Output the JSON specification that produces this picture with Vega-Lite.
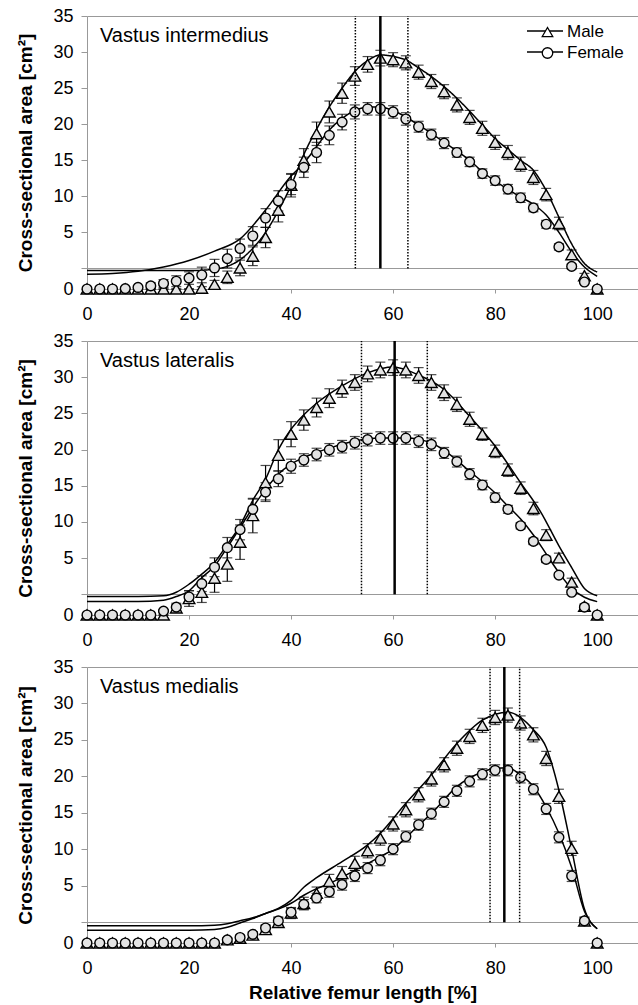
{
"$schema":"https://vega.github.io/schema/vega-lite/v6.json",
"padding":{"left":16,"top":7,"right":0,"bottom":2},
"spacing":9,
"config":{"font":"Liberation Sans","view":{"stroke":null},
 "axis":{"domain":true,"ticks":true,"domainColor":"#999999","tickColor":"#999999","domainWidth":1,"tickWidth":1,"labelColor":"black","titleColor":"black","labelFontSize":18,"titleFontSize":19,"titleFontWeight":"bold","labelFont":"Liberation Sans","titleFont":"Liberation Sans"}},
"resolve":{"scale":{"shape":"independent","strokeDash":"independent","opacity":"independent"},"legend":{"shape":"independent","strokeDash":"independent","opacity":"independent"}},
"datasets":{
"m":[
{"p":1,"s":"Male","x":0,"v":0,"e":0},{"p":1,"s":"Male","x":2.5,"v":0,"e":0},{"p":1,"s":"Male","x":5,"v":0,"e":0},{"p":1,"s":"Male","x":7.5,"v":0,"e":0},{"p":1,"s":"Male","x":10,"v":0,"e":0},{"p":1,"s":"Male","x":12.5,"v":0,"e":0},{"p":1,"s":"Male","x":15,"v":0,"e":0},{"p":1,"s":"Male","x":17.5,"v":0,"e":0},{"p":1,"s":"Male","x":20,"v":0,"e":0},{"p":1,"s":"Male","x":22.5,"v":0.1,"e":0.2},{"p":1,"s":"Male","x":25,"v":0.6,"e":0.5},{"p":1,"s":"Male","x":27.5,"v":1.5,"e":0.8},{"p":1,"s":"Male","x":30,"v":2.7,"e":1.0},{"p":1,"s":"Male","x":32.5,"v":4.2,"e":1.2},{"p":1,"s":"Male","x":35,"v":6.6,"e":1.3},{"p":1,"s":"Male","x":37.5,"v":10.1,"e":1.5},{"p":1,"s":"Male","x":40,"v":13.3,"e":1.5},{"p":1,"s":"Male","x":42.5,"v":16.5,"e":1.5},{"p":1,"s":"Male","x":45,"v":19.9,"e":1.5},{"p":1,"s":"Male","x":47.5,"v":22.7,"e":1.4},{"p":1,"s":"Male","x":50,"v":25.1,"e":1.3},{"p":1,"s":"Male","x":52.5,"v":27.3,"e":1.2},{"p":1,"s":"Male","x":55,"v":28.8,"e":1.0},{"p":1,"s":"Male","x":57.5,"v":29.6,"e":1.0},{"p":1,"s":"Male","x":60,"v":29.4,"e":0.9},{"p":1,"s":"Male","x":62.5,"v":29.0,"e":0.9},{"p":1,"s":"Male","x":65,"v":27.8,"e":0.9},{"p":1,"s":"Male","x":67.5,"v":26.6,"e":0.9},{"p":1,"s":"Male","x":70,"v":25.3,"e":0.9},{"p":1,"s":"Male","x":72.5,"v":23.6,"e":0.9},{"p":1,"s":"Male","x":75,"v":22.0,"e":0.9},{"p":1,"s":"Male","x":77.5,"v":20.6,"e":0.9},{"p":1,"s":"Male","x":80,"v":18.8,"e":0.9},{"p":1,"s":"Male","x":82.5,"v":17.5,"e":0.9},{"p":1,"s":"Male","x":85,"v":16.0,"e":0.9},{"p":1,"s":"Male","x":87.5,"v":14.3,"e":0.9},{"p":1,"s":"Male","x":90,"v":12.1,"e":0.8},{"p":1,"s":"Male","x":92.5,"v":8.4,"e":0.8},{"p":1,"s":"Male","x":95,"v":4.4,"e":0.6},{"p":1,"s":"Male","x":97.5,"v":1.7,"e":0.3},{"p":1,"s":"Male","x":100,"v":0,"e":0},
{"p":1,"s":"Female","x":0,"v":0,"e":0},{"p":1,"s":"Female","x":2.5,"v":0,"e":0},{"p":1,"s":"Female","x":5,"v":0,"e":0},{"p":1,"s":"Female","x":7.5,"v":0.05,"e":0.1},{"p":1,"s":"Female","x":10,"v":0.2,"e":0.2},{"p":1,"s":"Female","x":12.5,"v":0.4,"e":0.4},{"p":1,"s":"Female","x":15,"v":0.7,"e":0.5},{"p":1,"s":"Female","x":17.5,"v":1.0,"e":0.7},{"p":1,"s":"Female","x":20,"v":1.4,"e":0.8},{"p":1,"s":"Female","x":22.5,"v":1.8,"e":1.0},{"p":1,"s":"Female","x":25,"v":2.7,"e":1.1},{"p":1,"s":"Female","x":27.5,"v":3.9,"e":1.2},{"p":1,"s":"Female","x":30,"v":5.2,"e":1.2},{"p":1,"s":"Female","x":32.5,"v":6.8,"e":1.2},{"p":1,"s":"Female","x":35,"v":9.1,"e":1.2},{"p":1,"s":"Female","x":37.5,"v":11.3,"e":1.3},{"p":1,"s":"Female","x":40,"v":13.4,"e":1.3},{"p":1,"s":"Female","x":42.5,"v":15.6,"e":1.3},{"p":1,"s":"Female","x":45,"v":17.5,"e":1.3},{"p":1,"s":"Female","x":47.5,"v":19.7,"e":1.2},{"p":1,"s":"Female","x":50,"v":21.4,"e":1.0},{"p":1,"s":"Female","x":52.5,"v":22.7,"e":0.9},{"p":1,"s":"Female","x":55,"v":23.1,"e":0.8},{"p":1,"s":"Female","x":57.5,"v":23.1,"e":0.8},{"p":1,"s":"Female","x":60,"v":22.7,"e":0.8},{"p":1,"s":"Female","x":62.5,"v":21.8,"e":0.8},{"p":1,"s":"Female","x":65,"v":20.8,"e":0.7},{"p":1,"s":"Female","x":67.5,"v":19.8,"e":0.7},{"p":1,"s":"Female","x":70,"v":18.7,"e":0.7},{"p":1,"s":"Female","x":72.5,"v":17.5,"e":0.6},{"p":1,"s":"Female","x":75,"v":16.3,"e":0.6},{"p":1,"s":"Female","x":77.5,"v":14.8,"e":0.6},{"p":1,"s":"Female","x":80,"v":13.9,"e":0.6},{"p":1,"s":"Female","x":82.5,"v":12.8,"e":0.6},{"p":1,"s":"Female","x":85,"v":11.7,"e":0.6},{"p":1,"s":"Female","x":87.5,"v":10.4,"e":0.5},{"p":1,"s":"Female","x":90,"v":8.3,"e":0.5},{"p":1,"s":"Female","x":92.5,"v":5.4,"e":0.4},{"p":1,"s":"Female","x":95,"v":2.9,"e":0.3},{"p":1,"s":"Female","x":97.5,"v":0.9,"e":0.2},{"p":1,"s":"Female","x":100,"v":0,"e":0},
{"p":2,"s":"Male","x":0,"v":0,"e":0},{"p":2,"s":"Male","x":2.5,"v":0,"e":0},{"p":2,"s":"Male","x":5,"v":0,"e":0},{"p":2,"s":"Male","x":7.5,"v":0,"e":0},{"p":2,"s":"Male","x":10,"v":0,"e":0},{"p":2,"s":"Male","x":12.5,"v":0,"e":0},{"p":2,"s":"Male","x":15,"v":0,"e":0},{"p":2,"s":"Male","x":17.5,"v":0.9,"e":0.4},{"p":2,"s":"Male","x":20,"v":2.1,"e":1.0},{"p":2,"s":"Male","x":22.5,"v":2.9,"e":1.3},{"p":2,"s":"Male","x":25,"v":4.7,"e":1.8},{"p":2,"s":"Male","x":27.5,"v":6.5,"e":2.2},{"p":2,"s":"Male","x":30,"v":9.3,"e":2.2},{"p":2,"s":"Male","x":32.5,"v":12.7,"e":2.2},{"p":2,"s":"Male","x":35,"v":16.9,"e":2.2},{"p":2,"s":"Male","x":37.5,"v":20.4,"e":2.0},{"p":2,"s":"Male","x":40,"v":23.1,"e":1.6},{"p":2,"s":"Male","x":42.5,"v":24.9,"e":1.3},{"p":2,"s":"Male","x":45,"v":26.5,"e":1.2},{"p":2,"s":"Male","x":47.5,"v":27.7,"e":1.2},{"p":2,"s":"Male","x":50,"v":28.9,"e":1.1},{"p":2,"s":"Male","x":52.5,"v":29.7,"e":1.0},{"p":2,"s":"Male","x":55,"v":30.8,"e":1.0},{"p":2,"s":"Male","x":57.5,"v":31.3,"e":1.0},{"p":2,"s":"Male","x":60,"v":31.6,"e":1.0},{"p":2,"s":"Male","x":62.5,"v":31.3,"e":1.0},{"p":2,"s":"Male","x":65,"v":30.6,"e":1.0},{"p":2,"s":"Male","x":67.5,"v":29.7,"e":1.0},{"p":2,"s":"Male","x":70,"v":28.4,"e":1.0},{"p":2,"s":"Male","x":72.5,"v":26.9,"e":0.9},{"p":2,"s":"Male","x":75,"v":25.0,"e":0.9},{"p":2,"s":"Male","x":77.5,"v":23.1,"e":0.8},{"p":2,"s":"Male","x":80,"v":20.9,"e":0.8},{"p":2,"s":"Male","x":82.5,"v":18.5,"e":0.8},{"p":2,"s":"Male","x":85,"v":16.2,"e":0.8},{"p":2,"s":"Male","x":87.5,"v":13.6,"e":0.8},{"p":2,"s":"Male","x":90,"v":10.2,"e":0.7},{"p":2,"s":"Male","x":92.5,"v":7.3,"e":0.6},{"p":2,"s":"Male","x":95,"v":4.2,"e":0.5},{"p":2,"s":"Male","x":97.5,"v":1.1,"e":0.3},{"p":2,"s":"Male","x":100,"v":0,"e":0},
{"p":2,"s":"Female","x":0,"v":0,"e":0},{"p":2,"s":"Female","x":2.5,"v":0,"e":0},{"p":2,"s":"Female","x":5,"v":0,"e":0},{"p":2,"s":"Female","x":7.5,"v":0,"e":0},{"p":2,"s":"Female","x":10,"v":0,"e":0},{"p":2,"s":"Female","x":12.5,"v":0,"e":0},{"p":2,"s":"Female","x":15,"v":0.5,"e":0.2},{"p":2,"s":"Female","x":17.5,"v":1.0,"e":0.5},{"p":2,"s":"Female","x":20,"v":2.3,"e":0.8},{"p":2,"s":"Female","x":22.5,"v":4.0,"e":1.0},{"p":2,"s":"Female","x":25,"v":6.1,"e":1.2},{"p":2,"s":"Female","x":27.5,"v":8.6,"e":1.3},{"p":2,"s":"Female","x":30,"v":10.9,"e":1.3},{"p":2,"s":"Female","x":32.5,"v":13.5,"e":1.3},{"p":2,"s":"Female","x":35,"v":15.7,"e":1.2},{"p":2,"s":"Female","x":37.5,"v":17.4,"e":1.0},{"p":2,"s":"Female","x":40,"v":19.0,"e":0.9},{"p":2,"s":"Female","x":42.5,"v":19.8,"e":0.8},{"p":2,"s":"Female","x":45,"v":20.5,"e":0.8},{"p":2,"s":"Female","x":47.5,"v":21.1,"e":0.8},{"p":2,"s":"Female","x":50,"v":21.5,"e":0.8},{"p":2,"s":"Female","x":52.5,"v":22.0,"e":0.8},{"p":2,"s":"Female","x":55,"v":22.4,"e":0.8},{"p":2,"s":"Female","x":57.5,"v":22.6,"e":0.8},{"p":2,"s":"Female","x":60,"v":22.6,"e":0.8},{"p":2,"s":"Female","x":62.5,"v":22.6,"e":0.8},{"p":2,"s":"Female","x":65,"v":22.2,"e":0.8},{"p":2,"s":"Female","x":67.5,"v":21.8,"e":0.8},{"p":2,"s":"Female","x":70,"v":20.7,"e":0.7},{"p":2,"s":"Female","x":72.5,"v":19.6,"e":0.7},{"p":2,"s":"Female","x":75,"v":18.0,"e":0.7},{"p":2,"s":"Female","x":77.5,"v":16.6,"e":0.6},{"p":2,"s":"Female","x":80,"v":15.0,"e":0.6},{"p":2,"s":"Female","x":82.5,"v":13.5,"e":0.5},{"p":2,"s":"Female","x":85,"v":11.4,"e":0.4},{"p":2,"s":"Female","x":87.5,"v":9.4,"e":0.4},{"p":2,"s":"Female","x":90,"v":7.1,"e":0.4},{"p":2,"s":"Female","x":92.5,"v":5.1,"e":0.3},{"p":2,"s":"Female","x":95,"v":2.9,"e":0.3},{"p":2,"s":"Female","x":97.5,"v":1.0,"e":0.2},{"p":2,"s":"Female","x":100,"v":0,"e":0},
{"p":3,"s":"Male","x":0,"v":0,"e":0},{"p":3,"s":"Male","x":2.5,"v":0,"e":0},{"p":3,"s":"Male","x":5,"v":0,"e":0},{"p":3,"s":"Male","x":7.5,"v":0,"e":0},{"p":3,"s":"Male","x":10,"v":0,"e":0},{"p":3,"s":"Male","x":12.5,"v":0,"e":0},{"p":3,"s":"Male","x":15,"v":0,"e":0},{"p":3,"s":"Male","x":17.5,"v":0,"e":0},{"p":3,"s":"Male","x":20,"v":0,"e":0},{"p":3,"s":"Male","x":22.5,"v":0,"e":0},{"p":3,"s":"Male","x":25,"v":0,"e":0},{"p":3,"s":"Male","x":27.5,"v":0.4,"e":0.2},{"p":3,"s":"Male","x":30,"v":0.6,"e":0.3},{"p":3,"s":"Male","x":32.5,"v":1.0,"e":0.4},{"p":3,"s":"Male","x":35,"v":1.7,"e":0.5},{"p":3,"s":"Male","x":37.5,"v":2.6,"e":0.6},{"p":3,"s":"Male","x":40,"v":3.8,"e":0.7},{"p":3,"s":"Male","x":42.5,"v":5.0,"e":0.8},{"p":3,"s":"Male","x":45,"v":6.3,"e":0.8},{"p":3,"s":"Male","x":47.5,"v":7.8,"e":0.9},{"p":3,"s":"Male","x":50,"v":8.8,"e":0.9},{"p":3,"s":"Male","x":52.5,"v":10.1,"e":0.9},{"p":3,"s":"Male","x":55,"v":11.7,"e":0.9},{"p":3,"s":"Male","x":57.5,"v":13.3,"e":0.9},{"p":3,"s":"Male","x":60,"v":15.1,"e":0.9},{"p":3,"s":"Male","x":62.5,"v":16.9,"e":0.9},{"p":3,"s":"Male","x":65,"v":18.8,"e":0.9},{"p":3,"s":"Male","x":67.5,"v":20.8,"e":0.9},{"p":3,"s":"Male","x":70,"v":22.6,"e":0.9},{"p":3,"s":"Male","x":72.5,"v":24.7,"e":0.9},{"p":3,"s":"Male","x":75,"v":26.2,"e":0.9},{"p":3,"s":"Male","x":77.5,"v":27.6,"e":0.9},{"p":3,"s":"Male","x":80,"v":28.6,"e":0.9},{"p":3,"s":"Male","x":82.5,"v":28.9,"e":0.9},{"p":3,"s":"Male","x":85,"v":27.9,"e":0.9},{"p":3,"s":"Male","x":87.5,"v":26.4,"e":0.9},{"p":3,"s":"Male","x":90,"v":23.4,"e":0.9},{"p":3,"s":"Male","x":92.5,"v":18.6,"e":0.9},{"p":3,"s":"Male","x":95,"v":12.0,"e":0.9},{"p":3,"s":"Male","x":97.5,"v":2.8,"e":0.5},{"p":3,"s":"Male","x":100,"v":0,"e":0},
{"p":3,"s":"Female","x":0,"v":0,"e":0},{"p":3,"s":"Female","x":2.5,"v":0,"e":0},{"p":3,"s":"Female","x":5,"v":0,"e":0},{"p":3,"s":"Female","x":7.5,"v":0,"e":0},{"p":3,"s":"Female","x":10,"v":0,"e":0},{"p":3,"s":"Female","x":12.5,"v":0,"e":0},{"p":3,"s":"Female","x":15,"v":0,"e":0},{"p":3,"s":"Female","x":17.5,"v":0,"e":0},{"p":3,"s":"Female","x":20,"v":0,"e":0},{"p":3,"s":"Female","x":22.5,"v":0,"e":0},{"p":3,"s":"Female","x":25,"v":0,"e":0},{"p":3,"s":"Female","x":27.5,"v":0.4,"e":0.2},{"p":3,"s":"Female","x":30,"v":0.7,"e":0.3},{"p":3,"s":"Female","x":32.5,"v":1.1,"e":0.3},{"p":3,"s":"Female","x":35,"v":1.9,"e":0.4},{"p":3,"s":"Female","x":37.5,"v":2.8,"e":0.5},{"p":3,"s":"Female","x":40,"v":3.9,"e":0.5},{"p":3,"s":"Female","x":42.5,"v":4.9,"e":0.6},{"p":3,"s":"Female","x":45,"v":5.7,"e":0.6},{"p":3,"s":"Female","x":47.5,"v":6.5,"e":0.7},{"p":3,"s":"Female","x":50,"v":7.4,"e":0.7},{"p":3,"s":"Female","x":52.5,"v":8.5,"e":0.7},{"p":3,"s":"Female","x":55,"v":9.5,"e":0.7},{"p":3,"s":"Female","x":57.5,"v":10.5,"e":0.7},{"p":3,"s":"Female","x":60,"v":11.9,"e":0.7},{"p":3,"s":"Female","x":62.5,"v":13.5,"e":0.7},{"p":3,"s":"Female","x":65,"v":15.0,"e":0.7},{"p":3,"s":"Female","x":67.5,"v":16.4,"e":0.7},{"p":3,"s":"Female","x":70,"v":17.9,"e":0.7},{"p":3,"s":"Female","x":72.5,"v":19.3,"e":0.7},{"p":3,"s":"Female","x":75,"v":20.5,"e":0.7},{"p":3,"s":"Female","x":77.5,"v":21.4,"e":0.7},{"p":3,"s":"Female","x":80,"v":21.9,"e":0.7},{"p":3,"s":"Female","x":82.5,"v":21.9,"e":0.7},{"p":3,"s":"Female","x":85,"v":21.0,"e":0.7},{"p":3,"s":"Female","x":87.5,"v":19.5,"e":0.7},{"p":3,"s":"Female","x":90,"v":17.0,"e":0.7},{"p":3,"s":"Female","x":92.5,"v":13.4,"e":0.7},{"p":3,"s":"Female","x":95,"v":8.5,"e":0.7},{"p":3,"s":"Female","x":97.5,"v":2.8,"e":0.4},{"p":3,"s":"Female","x":100,"v":0,"e":0}
],
"l":[
{"p":1,"s":"Male","x":0,"v":-0.3},{"p":1,"s":"Male","x":10,"v":-0.3},{"p":1,"s":"Male","x":20,"v":-0.3},{"p":1,"s":"Male","x":25,"v":-0.1},{"p":1,"s":"Male","x":27.5,"v":0.3},{"p":1,"s":"Male","x":30,"v":1.2},{"p":1,"s":"Male","x":32.5,"v":2.8},{"p":1,"s":"Male","x":35,"v":5.0},{"p":1,"s":"Male","x":37.5,"v":8.0},{"p":1,"s":"Male","x":40,"v":11.5},{"p":1,"s":"Male","x":42.5,"v":15.8},{"p":1,"s":"Male","x":45,"v":19.3},{"p":1,"s":"Male","x":47.5,"v":22.4},{"p":1,"s":"Male","x":50,"v":25.0},{"p":1,"s":"Male","x":52.5,"v":27.3},{"p":1,"s":"Male","x":55,"v":28.8},{"p":1,"s":"Male","x":57.5,"v":29.6},{"p":1,"s":"Male","x":60,"v":29.4},{"p":1,"s":"Male","x":62.5,"v":28.9},{"p":1,"s":"Male","x":65,"v":27.8},{"p":1,"s":"Male","x":67.5,"v":26.6},{"p":1,"s":"Male","x":70,"v":25.2},{"p":1,"s":"Male","x":72.5,"v":23.6},{"p":1,"s":"Male","x":75,"v":21.8},{"p":1,"s":"Male","x":77.5,"v":19.9},{"p":1,"s":"Male","x":80,"v":18.0},{"p":1,"s":"Male","x":82.5,"v":16.5},{"p":1,"s":"Male","x":85,"v":15.0},{"p":1,"s":"Male","x":87.5,"v":13.6},{"p":1,"s":"Male","x":90,"v":10.8},{"p":1,"s":"Male","x":92.5,"v":7.1},{"p":1,"s":"Male","x":95,"v":3.4},{"p":1,"s":"Male","x":97.5,"v":0.7},{"p":1,"s":"Male","x":100,"v":-0.5},
{"p":1,"s":"Female","x":0,"v":-0.8},{"p":1,"s":"Female","x":5,"v":-0.7},{"p":1,"s":"Female","x":10,"v":-0.4},{"p":1,"s":"Female","x":15,"v":0.2},{"p":1,"s":"Female","x":20,"v":1.1},{"p":1,"s":"Female","x":25,"v":2.4},{"p":1,"s":"Female","x":30,"v":4.1},{"p":1,"s":"Female","x":35,"v":8.1},{"p":1,"s":"Female","x":40,"v":12.8},{"p":1,"s":"Female","x":42.5,"v":14.6},{"p":1,"s":"Female","x":45,"v":16.9},{"p":1,"s":"Female","x":47.5,"v":19.2},{"p":1,"s":"Female","x":50,"v":20.8},{"p":1,"s":"Female","x":52.5,"v":21.9},{"p":1,"s":"Female","x":55,"v":22.4},{"p":1,"s":"Female","x":57.5,"v":22.4},{"p":1,"s":"Female","x":60,"v":21.9},{"p":1,"s":"Female","x":62.5,"v":21.0},{"p":1,"s":"Female","x":65,"v":19.9},{"p":1,"s":"Female","x":70,"v":17.5},{"p":1,"s":"Female","x":75,"v":15.0},{"p":1,"s":"Female","x":77.5,"v":13.4},{"p":1,"s":"Female","x":80,"v":12.1},{"p":1,"s":"Female","x":82.5,"v":11.0},{"p":1,"s":"Female","x":85,"v":9.9},{"p":1,"s":"Female","x":87.5,"v":8.9},{"p":1,"s":"Female","x":90,"v":7.4},{"p":1,"s":"Female","x":92.5,"v":5.0},{"p":1,"s":"Female","x":95,"v":2.3},{"p":1,"s":"Female","x":97.5,"v":0.2},{"p":1,"s":"Female","x":100,"v":-1.1},
{"p":2,"s":"Male","x":0,"v":-0.3},{"p":2,"s":"Male","x":10,"v":-0.3},{"p":2,"s":"Male","x":15,"v":-0.2},{"p":2,"s":"Male","x":17.5,"v":0.3},{"p":2,"s":"Male","x":20,"v":1.4},{"p":2,"s":"Male","x":22.5,"v":2.8},{"p":2,"s":"Male","x":25,"v":4.4},{"p":2,"s":"Male","x":27.5,"v":6.9},{"p":2,"s":"Male","x":30,"v":9.5},{"p":2,"s":"Male","x":32.5,"v":13.0},{"p":2,"s":"Male","x":35,"v":15.9},{"p":2,"s":"Male","x":37.5,"v":20.0},{"p":2,"s":"Male","x":40,"v":22.8},{"p":2,"s":"Male","x":42.5,"v":24.8},{"p":2,"s":"Male","x":45,"v":26.4},{"p":2,"s":"Male","x":50,"v":28.8},{"p":2,"s":"Male","x":55,"v":30.6},{"p":2,"s":"Male","x":60,"v":31.4},{"p":2,"s":"Male","x":65,"v":30.3},{"p":2,"s":"Male","x":70,"v":28.3},{"p":2,"s":"Male","x":75,"v":24.6},{"p":2,"s":"Male","x":80,"v":20.5},{"p":2,"s":"Male","x":85,"v":15.4},{"p":2,"s":"Male","x":89,"v":11.3},{"p":2,"s":"Male","x":92.5,"v":6.7},{"p":2,"s":"Male","x":95,"v":3.7},{"p":2,"s":"Male","x":97.5,"v":0.8},{"p":2,"s":"Male","x":100,"v":-0.2},
{"p":2,"s":"Female","x":0,"v":-1.0},{"p":2,"s":"Female","x":10,"v":-1.0},{"p":2,"s":"Female","x":15,"v":-0.8},{"p":2,"s":"Female","x":17.5,"v":-0.3},{"p":2,"s":"Female","x":20,"v":0.5},{"p":2,"s":"Female","x":22.5,"v":2.3},{"p":2,"s":"Female","x":25,"v":3.9},{"p":2,"s":"Female","x":27.5,"v":6.5},{"p":2,"s":"Female","x":30,"v":9.2},{"p":2,"s":"Female","x":32.5,"v":12.0},{"p":2,"s":"Female","x":35,"v":14.5},{"p":2,"s":"Female","x":37.5,"v":16.6},{"p":2,"s":"Female","x":40,"v":18.0},{"p":2,"s":"Female","x":42.5,"v":18.9},{"p":2,"s":"Female","x":45,"v":19.6},{"p":2,"s":"Female","x":47.5,"v":20.2},{"p":2,"s":"Female","x":52.5,"v":21.2},{"p":2,"s":"Female","x":57.5,"v":21.6},{"p":2,"s":"Female","x":62.5,"v":21.6},{"p":2,"s":"Female","x":67.5,"v":20.9},{"p":2,"s":"Female","x":70,"v":19.9},{"p":2,"s":"Female","x":75,"v":17.0},{"p":2,"s":"Female","x":80,"v":14.0},{"p":2,"s":"Female","x":82.5,"v":12.2},{"p":2,"s":"Female","x":85,"v":10.4},{"p":2,"s":"Female","x":87.5,"v":8.2},{"p":2,"s":"Female","x":90,"v":5.6},{"p":2,"s":"Female","x":92.5,"v":3.0},{"p":2,"s":"Female","x":95,"v":0.8},{"p":2,"s":"Female","x":97.5,"v":-0.4},{"p":2,"s":"Female","x":100,"v":-1.0},
{"p":3,"s":"Male","x":0,"v":-0.5},{"p":3,"s":"Male","x":20,"v":-0.5},{"p":3,"s":"Male","x":25,"v":-0.4},{"p":3,"s":"Male","x":27.5,"v":-0.2},{"p":3,"s":"Male","x":30,"v":0.2},{"p":3,"s":"Male","x":32.5,"v":0.6},{"p":3,"s":"Male","x":35,"v":1.2},{"p":3,"s":"Male","x":37.5,"v":1.9},{"p":3,"s":"Male","x":40,"v":3.0},{"p":3,"s":"Male","x":42.5,"v":4.8},{"p":3,"s":"Male","x":45,"v":6.1},{"p":3,"s":"Male","x":50,"v":8.3},{"p":3,"s":"Male","x":55,"v":10.6},{"p":3,"s":"Male","x":57.5,"v":12.2},{"p":3,"s":"Male","x":62.5,"v":16.3},{"p":3,"s":"Male","x":67.5,"v":20.2},{"p":3,"s":"Male","x":72.5,"v":24.5},{"p":3,"s":"Male","x":77.5,"v":27.7},{"p":3,"s":"Male","x":82.5,"v":28.8},{"p":3,"s":"Male","x":87.5,"v":26.4},{"p":3,"s":"Male","x":90,"v":24.0},{"p":3,"s":"Male","x":92.5,"v":18.1},{"p":3,"s":"Male","x":95,"v":10.0},{"p":3,"s":"Male","x":97.5,"v":1.8},{"p":3,"s":"Male","x":100,"v":-0.9},
{"p":3,"s":"Female","x":0,"v":-1.1},{"p":3,"s":"Female","x":20,"v":-1.1},{"p":3,"s":"Female","x":25,"v":-1.0},{"p":3,"s":"Female","x":27.5,"v":-0.7},{"p":3,"s":"Female","x":30,"v":-0.1},{"p":3,"s":"Female","x":32.5,"v":0.5},{"p":3,"s":"Female","x":35,"v":1.2},{"p":3,"s":"Female","x":37.5,"v":1.8},{"p":3,"s":"Female","x":40,"v":2.6},{"p":3,"s":"Female","x":42.5,"v":3.7},{"p":3,"s":"Female","x":45,"v":4.6},{"p":3,"s":"Female","x":47.5,"v":5.3},{"p":3,"s":"Female","x":52.5,"v":7.1},{"p":3,"s":"Female","x":57.5,"v":9.0},{"p":3,"s":"Female","x":60,"v":10.0},{"p":3,"s":"Female","x":62.5,"v":11.6},{"p":3,"s":"Female","x":65,"v":13.3},{"p":3,"s":"Female","x":67.5,"v":14.9},{"p":3,"s":"Female","x":72.5,"v":18.6},{"p":3,"s":"Female","x":77.5,"v":20.6},{"p":3,"s":"Female","x":80,"v":21.1},{"p":3,"s":"Female","x":82.5,"v":21.2},{"p":3,"s":"Female","x":85,"v":20.2},{"p":3,"s":"Female","x":87.5,"v":18.6},{"p":3,"s":"Female","x":90,"v":15.8},{"p":3,"s":"Female","x":92.5,"v":12.2},{"p":3,"s":"Female","x":95,"v":7.5},{"p":3,"s":"Female","x":97.5,"v":1.5},{"p":3,"s":"Female","x":100,"v":-0.9}
],
"r":[
{"p":1,"x":57.5,"t":"solid"},{"p":1,"x":52.6,"t":"dot"},{"p":1,"x":62.9,"t":"dot"},
{"p":2,"x":60.3,"t":"solid"},{"p":2,"x":53.8,"t":"dot"},{"p":2,"x":66.7,"t":"dot"},
{"p":3,"x":81.8,"t":"solid"},{"p":3,"x":79.0,"t":"dot"},{"p":3,"x":84.8,"t":"dot"}
]
},
"vconcat":[
{
"width":551,"height":273,
"title":{"text":"Vastus intermedius","anchor":"start","frame":"group","orient":"top","dx":13,"offset":-39,"fontSize":20,"fontWeight":"normal","color":"black"},
"encoding":{"x":{"field":"x","type":"quantitative","scale":{"domain":[0,108],"nice":false,"zero":false},"axis":{"values":[0,20,40,60,80,100],"title":null,"tickSize":4,"labelPadding":12,"grid":false,"labelFlush":false}}},
"layer":[
{"data":{"name":"l"},"transform":[{"filter":"datum.p == 1"}],
"mark":{"type":"line","interpolate":"monotone","color":"black","strokeWidth":1.5},
"encoding":{
"y":{"field":"v","type":"quantitative","scale":{"domain":[-2.85,35],"nice":false,"zero":false},"axis":{"values":[-2.85,0,5,10,15,20,25,30,35],"labelExpr":"datum.value < 0 ? '0' : (datum.value == 0 ? '' : datum.label)","title":"Cross-sectional area [cm²]","grid":true,"gridColor":"#999999","gridOpacity":{"condition":{"test":"datum.value == 0 || datum.value == 35","value":1},"value":0},"tickSize":6,"labelPadding":8,"titlePadding":17,"labelOverlap":false}},
"detail":{"field":"s"},
"strokeDash":{"field":"s","type":"nominal","scale":{"domain":["Male"],"range":[[1,0]]},
"legend":{"orient":"none","legendX":439,"legendY":-4,"title":null,"symbolType":"stroke","symbolSize":1296,"symbolStrokeColor":"black","symbolStrokeWidth":1.3,"padding":0,"labelExpr":"''","labelFontSize":17}},
"opacity":{"field":"s","type":"ordinal","scale":{"domain":["Female"],"range":[1,1]},
"legend":{"orient":"none","legendX":439,"legendY":17,"title":null,"symbolType":"stroke","symbolSize":1296,"symbolStrokeColor":"black","symbolStrokeWidth":1.3,"symbolOpacity":1,"padding":0,"labelExpr":"''","labelFontSize":17}}}},
{"data":{"name":"m"},"transform":[{"filter":"datum.p == 1"}],
"layer":[
{"mark":{"type":"errorbar","ticks":{"size":10},"color":"black","thickness":1.2},
"encoding":{"y":{"field":"v","type":"quantitative","scale":{"domain":[0,35],"nice":false,"zero":false},"axis":null},"yError":{"field":"e"}}},
{"transform":[{"filter":"datum.s == 'Male'"}],"mark":{"type":"point","size":135,"fill":"#e3e3e3","stroke":"black","strokeWidth":1.4,"opacity":1},
"encoding":{"y":{"field":"v","type":"quantitative","axis":null},
"shape":{"field":"s","type":"nominal","scale":{"domain":["Male","Female"],"range":["triangle-up","circle"]},
"legend":{"orient":"none","legendX":452,"legendY":7.5,"title":null,"symbolSize":110,"symbolFillColor":"white","symbolStrokeColor":"black","symbolStrokeWidth":1.3,"labelFontSize":17,"labelOffset":11,"rowPadding":3,"padding":0,"labelColor":"black",
"encoding":{"symbols":{"fill":{"value":"white"},"stroke":{"value":"black"},"strokeWidth":{"value":1.3},"opacity":{"value":1}}}}}}},
{"transform":[{"filter":"datum.s == 'Female'"}],"mark":{"type":"point","size":95,"fill":"#e3e3e3","stroke":"black","strokeWidth":1.4,"opacity":1},
"encoding":{"y":{"field":"v","type":"quantitative","axis":null},"shape":{"field":"s","type":"nominal","legend":null}}}
]},
{"data":{"name":"r"},"transform":[{"filter":"datum.p == 1"}],
"layer":[
{"transform":[{"filter":"datum.t == 'solid'"}],"mark":{"type":"rule","color":"black","strokeWidth":2.5},
"encoding":{"y":{"datum":0,"scale":{"domain":[-2.85,35],"nice":false,"zero":false},"axis":null},"y2":{"datum":35}}},
{"transform":[{"filter":"datum.t == 'dot'"}],"mark":{"type":"rule","color":"black","strokeWidth":1.5,"strokeDash":[1.5,1.5]},
"encoding":{"y":{"datum":0,"axis":null},"y2":{"datum":35}}}
]}
],
"resolve":{"scale":{"y":"independent"},"axis":{"y":"independent"}}
},
{
"width":551,"height":274,
"title":{"text":"Vastus lateralis","anchor":"start","frame":"group","orient":"top","dx":13,"offset":-39,"fontSize":20,"fontWeight":"normal","color":"black"},
"encoding":{"x":{"field":"x","type":"quantitative","scale":{"domain":[0,108],"nice":false,"zero":false},"axis":{"values":[0,20,40,60,80,100],"title":null,"tickSize":4,"labelPadding":12,"grid":false,"labelFlush":false}}},
"layer":[
{"data":{"name":"l"},"transform":[{"filter":"datum.p == 2"}],
"mark":{"type":"line","interpolate":"monotone","color":"black","strokeWidth":1.5},
"encoding":{
"y":{"field":"v","type":"quantitative","scale":{"domain":[-2.85,35],"nice":false,"zero":false},"axis":{"values":[-2.85,0,5,10,15,20,25,30,35],"labelExpr":"datum.value < 0 ? '0' : (datum.value == 0 ? '' : datum.label)","title":"Cross-sectional area [cm²]","grid":true,"gridColor":"#999999","gridOpacity":{"condition":{"test":"datum.value == 0 || datum.value == 35","value":1},"value":0},"tickSize":6,"labelPadding":8,"titlePadding":17,"labelOverlap":false}},
"detail":{"field":"s"}}},
{"data":{"name":"m"},"transform":[{"filter":"datum.p == 2"}],
"layer":[
{"mark":{"type":"errorbar","ticks":{"size":10},"color":"black","thickness":1.2},
"encoding":{"y":{"field":"v","type":"quantitative","scale":{"domain":[0,35],"nice":false,"zero":false},"axis":null},"yError":{"field":"e"}}},
{"transform":[{"filter":"datum.s == 'Male'"}],"mark":{"type":"point","shape":"triangle-up","size":135,"fill":"#e3e3e3","stroke":"black","strokeWidth":1.4,"opacity":1},
"encoding":{"y":{"field":"v","type":"quantitative","axis":null}}},
{"transform":[{"filter":"datum.s == 'Female'"}],"mark":{"type":"point","shape":"circle","size":95,"fill":"#e3e3e3","stroke":"black","strokeWidth":1.4,"opacity":1},
"encoding":{"y":{"field":"v","type":"quantitative","axis":null}}}
]},
{"data":{"name":"r"},"transform":[{"filter":"datum.p == 2"}],
"layer":[
{"transform":[{"filter":"datum.t == 'solid'"}],"mark":{"type":"rule","color":"black","strokeWidth":2.5},
"encoding":{"y":{"datum":0,"scale":{"domain":[-2.85,35],"nice":false,"zero":false},"axis":null},"y2":{"datum":35}}},
{"transform":[{"filter":"datum.t == 'dot'"}],"mark":{"type":"rule","color":"black","strokeWidth":1.5,"strokeDash":[1.5,1.5]},
"encoding":{"y":{"datum":0,"axis":null},"y2":{"datum":35}}}
]}
],
"resolve":{"scale":{"y":"independent"},"axis":{"y":"independent"}}
},
{
"width":551,"height":276,
"title":{"text":"Vastus medialis","anchor":"start","frame":"group","orient":"top","dx":13,"offset":-39,"fontSize":20,"fontWeight":"normal","color":"black"},
"encoding":{"x":{"field":"x","type":"quantitative","scale":{"domain":[0,108],"nice":false,"zero":false},"axis":{"values":[0,20,40,60,80,100],"title":"Relative femur length [%]","titlePadding":6,"tickSize":4,"labelPadding":12,"grid":false,"labelFlush":false}}},
"layer":[
{"data":{"name":"l"},"transform":[{"filter":"datum.p == 3"}],
"mark":{"type":"line","interpolate":"monotone","color":"black","strokeWidth":1.5},
"encoding":{
"y":{"field":"v","type":"quantitative","scale":{"domain":[-2.85,35],"nice":false,"zero":false},"axis":{"values":[-2.85,0,5,10,15,20,25,30,35],"labelExpr":"datum.value < 0 ? '0' : (datum.value == 0 ? '' : datum.label)","title":"Cross-sectional area [cm²]","grid":true,"gridColor":"#999999","gridOpacity":{"condition":{"test":"datum.value == 0 || datum.value == 35","value":1},"value":0},"tickSize":6,"labelPadding":8,"titlePadding":17,"labelOverlap":false}},
"detail":{"field":"s"}}},
{"data":{"name":"m"},"transform":[{"filter":"datum.p == 3"}],
"layer":[
{"mark":{"type":"errorbar","ticks":{"size":10},"color":"black","thickness":1.2},
"encoding":{"y":{"field":"v","type":"quantitative","scale":{"domain":[0,35],"nice":false,"zero":false},"axis":null},"yError":{"field":"e"}}},
{"transform":[{"filter":"datum.s == 'Male'"}],"mark":{"type":"point","shape":"triangle-up","size":135,"fill":"#e3e3e3","stroke":"black","strokeWidth":1.4,"opacity":1},
"encoding":{"y":{"field":"v","type":"quantitative","axis":null}}},
{"transform":[{"filter":"datum.s == 'Female'"}],"mark":{"type":"point","shape":"circle","size":95,"fill":"#e3e3e3","stroke":"black","strokeWidth":1.4,"opacity":1},
"encoding":{"y":{"field":"v","type":"quantitative","axis":null}}}
]},
{"data":{"name":"r"},"transform":[{"filter":"datum.p == 3"}],
"layer":[
{"transform":[{"filter":"datum.t == 'solid'"}],"mark":{"type":"rule","color":"black","strokeWidth":2.5},
"encoding":{"y":{"datum":0,"scale":{"domain":[-2.85,35],"nice":false,"zero":false},"axis":null},"y2":{"datum":35}}},
{"transform":[{"filter":"datum.t == 'dot'"}],"mark":{"type":"rule","color":"black","strokeWidth":1.5,"strokeDash":[1.5,1.5]},
"encoding":{"y":{"datum":0,"axis":null},"y2":{"datum":35}}}
]}
],
"resolve":{"scale":{"y":"independent"},"axis":{"y":"independent"}}
}
]
}
